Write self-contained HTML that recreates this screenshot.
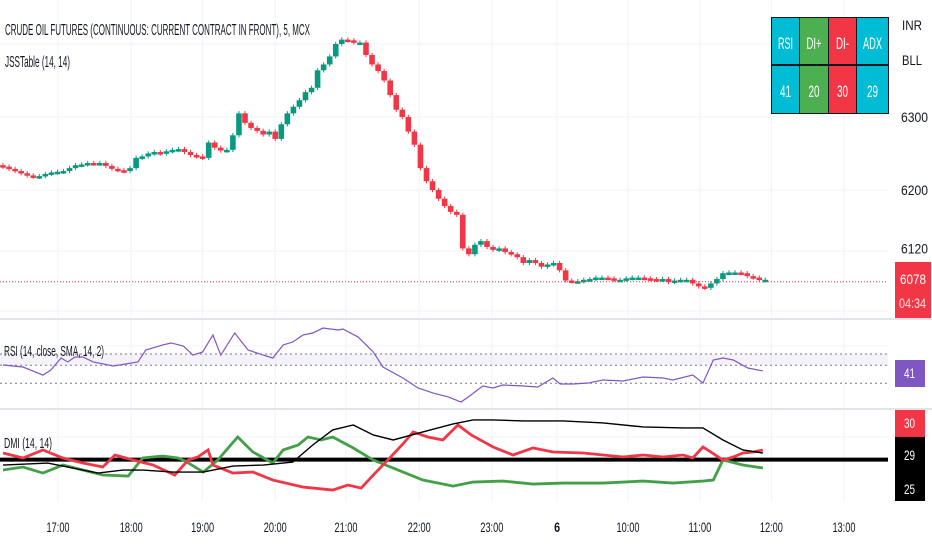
<!DOCTYPE html>
<html><head><meta charset="utf-8"><style>
html,body{margin:0;padding:0;background:#fff;width:932px;height:550px;overflow:hidden}
svg{display:block;font-family:"Liberation Sans",sans-serif}
</style></head><body>
<svg id="chart" width="932" height="550">
<g id="grid"></g>
<g id="candles"></g>
<g id="rsi"></g>
<g id="dmi"></g>
<g id="axes"></g>
<text x="5" y="35" font-size="16" fill="#131722" textLength="305" lengthAdjust="spacingAndGlyphs">CRUDE OIL FUTURES (CONTINUOUS: CURRENT CONTRACT IN FRONT), 5, MCX</text>
<text x="5" y="67" font-size="16" fill="#131722" textLength="65" lengthAdjust="spacingAndGlyphs">JSSTable (14, 14)</text>
<text x="4" y="356" font-size="15" fill="#131722" textLength="100" lengthAdjust="spacingAndGlyphs">RSI (14, close, SMA, 14, 2)</text>
<text x="4" y="448" font-size="15" fill="#131722" textLength="48" lengthAdjust="spacingAndGlyphs">DMI (14, 14)</text>
<g>
<rect x="771" y="17" width="118" height="97" fill="#131722"/>
<rect x="772" y="18" width="27" height="46" fill="#00bcd4"/><rect x="800" y="18" width="28" height="46" fill="#4caf50"/><rect x="829" y="18" width="27" height="46" fill="#f23645"/><rect x="857" y="18" width="31" height="46" fill="#00bcd4"/>
<rect x="772" y="66" width="27" height="47" fill="#00bcd4"/><rect x="800" y="66" width="28" height="47" fill="#4caf50"/><rect x="829" y="66" width="27" height="47" fill="#f23645"/><rect x="857" y="66" width="31" height="47" fill="#00bcd4"/>
<g fill="#fff" font-size="17" text-anchor="middle" lengthAdjust="spacingAndGlyphs">
<text x="785.5" y="49" textLength="15" lengthAdjust="spacingAndGlyphs">RSI</text>
<text x="814" y="49" textLength="15" lengthAdjust="spacingAndGlyphs">DI+</text>
<text x="842.5" y="49" textLength="13" lengthAdjust="spacingAndGlyphs">DI-</text>
<text x="872.5" y="49" textLength="19" lengthAdjust="spacingAndGlyphs">ADX</text>
<text x="785.5" y="97" textLength="11" lengthAdjust="spacingAndGlyphs">41</text>
<text x="814" y="97" textLength="11" lengthAdjust="spacingAndGlyphs">20</text>
<text x="842.5" y="97" textLength="11" lengthAdjust="spacingAndGlyphs">30</text>
<text x="872.5" y="97" textLength="11" lengthAdjust="spacingAndGlyphs">29</text>
</g></g>
</svg>
<script>
const closes=[6232,6229,6226,6223,6220,6218,6219,6222,6224,6225,6226,6230,6234,6235,6237,6236,6237,6233,6229,6227,6226,6230,6244,6246,6250,6252,6250,6253,6255,6256,6252,6248,6246,6244,6265,6258,6254,6255,6275,6305,6292,6285,6281,6276,6280,6270,6290,6305,6314,6323,6334,6340,6364,6372,6383,6400,6406,6405,6402,6402,6385,6372,6363,6350,6330,6310,6300,6280,6262,6230,6212,6200,6188,6178,6170,6166,6120,6112,6125,6130,6122,6118,6120,6115,6112,6108,6100,6104,6100,6095,6098,6100,6090,6076,6075,6075,6077,6078,6080,6080,6079,6077,6077,6079,6080,6080,6079,6078,6077,6078,6074,6076,6077,6077,6072,6068,6066,6072,6078,6086,6087,6087,6086,6082,6080,6077,6077];
const priceTicks=[6300,6200,6120];
const timeLabels=["17:00","18:00","19:00","20:00","21:00","22:00","23:00","6","10:00","11:00","12:00","13:00"];
const timeIdx=[9.1,21.2,33,45,56.7,68.8,80.8,91.6,103.3,115.2,127,139];
const rsiIdx=[0,3.3,6.6,7.9,9.6,10.7,11.9,13.2,14.9,18.2,22.3,23.6,26.4,27.8,29.8,31.4,33,34.7,36,38.3,40.5,43,44.6,46.3,47.9,49.6,51.2,52.9,55.4,56.2,58.7,61.2,62.8,66.1,68.6,71.1,73.6,75.7,76.9,79.3,81,82.6,86,88.4,90.9,92.1,94.2,96.7,99.2,102.5,105.8,109.1,110.7,114,115.7,117.4,119,120.7,123.1,125.6];
const rsiVals=[53.3,51.1,42.2,47.8,61.1,56.7,62.2,62.2,56.7,52.2,56.7,70,75.6,77.8,74.4,64.4,67.8,86.7,64.4,88.9,70,64.4,61.1,75.6,78.9,86.7,88.9,94.4,92.2,93.3,84.4,67.8,51.1,38.9,27.8,22.2,17.8,12.2,17.8,30,27.8,31.1,30,28.9,38.9,32.2,32.2,33.3,36.7,35.6,40,38.9,36.7,42.2,33.3,58.9,61.1,58.9,50,46.7];
const rsiLevels=[65.5,53,33];
const adxIdx=[0,7.4,9.9,15.7,19.8,23.1,28.1,33.1,38,43,47.9,51.2,54.5,57.9,61.2,64.5,69.4,74.4,77.7,81,86,92.6,99.2,105.8,112.4,115.7,119,122.3,125.6];
const adxVals=[21.8,23,21.2,17,18.8,18.8,17.6,17.6,21.2,21.8,23.6,33.8,42.8,45.8,39.8,36.8,41.6,46.4,48.8,48.8,48.2,48.2,47,44.6,44,44,36.8,30.8,29];
const diMinusIdx=[0,3.3,6.6,9.9,13.2,16.5,18.5,21.5,24.8,28.4,30.6,32.2,33.9,34.7,38,41.3,44.6,49.6,54.5,57,59.2,61.2,63.6,66.1,67.8,70.2,72.7,75.2,77.4,81,84.3,87.6,90.9,95.9,99.2,102.5,105.8,109.1,112.4,114,115.7,119,120.7,122.3,124,125.6];
const diMinusVals=[29,26,30.8,26,23,20.6,27.8,24.8,21.8,15.8,24.8,26.6,30.8,21.8,17,17.6,12.8,8.6,6.8,9.8,8,15.8,24.8,34.4,41.6,38.6,36.8,45.8,39.8,32.6,27.8,32,29.6,29,27.8,26.6,27.8,26.6,27.8,26,32.6,24.8,26.6,29,29.6,30.8];
const diPlusIdx=[0,3.3,6.6,9.9,13.2,16.5,20.7,23.1,26.4,28.9,30.1,33.1,35.5,38.8,41.3,44.6,46.3,48.8,50.4,52.6,54.5,57.9,61.2,65.3,69.4,74.4,77.7,82.6,87.6,92.6,99.2,105.8,110.7,115.7,117.4,119,122.3,125.6];
const diPlusVals=[18.8,20.6,17,21.8,18.8,15.8,15.2,26,27.2,26,24.2,17.6,24.8,38.6,29.6,23,30.8,33.8,38.6,36.8,38.6,32,24.8,18.8,12.8,9.2,11.6,12.2,10.4,11,11,12.2,11,12.2,12.8,24.8,21.8,20];
const dmiKey=25;

const NS="http://www.w3.org/2000/svg";
const xS=i=>3+6.05*i;
const yP=p=>117+(6300-p)*0.73;
const yR=v=>368-(v-50)*0.9;
const yD=v=>453-(v-29)*1.67;
function mk(tag,attrs,parent){const e=document.createElementNS(NS,tag);for(const k in attrs)e.setAttribute(k,attrs[k]);parent.appendChild(e);return e;}
const grid=document.getElementById('grid'),cg=document.getElementById('candles'),rg=document.getElementById('rsi'),dg=document.getElementById('dmi'),ax=document.getElementById('axes');
[44,117,190,251,311,346,437].forEach(y=>{mk('line',{x1:0,x2:888,y1:y,y2:y,stroke:'#f0f3fa','stroke-width':1},grid);});
timeIdx.forEach(i=>{mk('line',{x1:xS(i),x2:xS(i),y1:0,y2:502,stroke:'#f0f3fa','stroke-width':1},grid);});
closes.forEach((c,i)=>{const o=i?closes[i-1]:c+2;const up=c>=o;const col=up?'#089981':'#f23645';
 const hi=Math.max(o,c)+3,lo=Math.min(o,c)-3;const x=xS(i);
 const w=mk('line',{x1:x,x2:x,y1:yP(hi),y2:yP(lo),stroke:col,'stroke-width':1},cg);
 
 const t=Math.min(yP(o),yP(c));const h=Math.max(2.5,Math.abs(yP(o)-yP(c)));
 const b=mk('rect',{x:x-2.8,y:t,width:5.6,height:h,fill:col},cg);
 });
const lp=mk('line',{x1:0,x2:888,y1:yP(closes[closes.length-1])+2,y2:yP(closes[closes.length-1])+2,stroke:'#f23645','stroke-width':1,'stroke-dasharray':'1 2'},cg);

[319,409].forEach(y=>{const l=mk('line',{x1:0,x2:932,y1:y,y2:y,stroke:'#e0e3eb','stroke-width':2},ax);});
mk('rect',{x:0,y:yR(rsiLevels[0]),width:888,height:yR(rsiLevels[1])-yR(rsiLevels[0]),fill:'#7e57c2','fill-opacity':0.08},rg);
rsiLevels.forEach(v=>{const l=mk('line',{x1:0,x2:888,y1:yR(v),y2:yR(v),stroke:'#787b86','stroke-width':1,'stroke-dasharray':'2 3'},rg);});
const rl=mk('polyline',{points:rsiIdx.map((i,k)=>xS(i)+','+yR(rsiVals[k])).join(' '),fill:'none',stroke:'#7e57c2','stroke-width':1.2},rg);

const kl=mk('line',{x1:0,x2:888,y1:yD(dmiKey),y2:yD(dmiKey),stroke:'#000','stroke-width':4},dg);

const gl=mk('polyline',{points:diPlusIdx.map((i,k)=>xS(i)+','+yD(diPlusVals[k])).join(' '),fill:'none',stroke:'#43a047','stroke-width':2.8},dg);

const redl=mk('polyline',{points:diMinusIdx.map((i,k)=>xS(i)+','+yD(diMinusVals[k])).join(' '),fill:'none',stroke:'#f23645','stroke-width':2.8},dg);

const al=mk('polyline',{points:adxIdx.map((i,k)=>xS(i)+','+yD(adxVals[k])).join(' '),fill:'none',stroke:'#000','stroke-width':1.4},dg);

function lab(txt,x,y,opt,name){const t=mk('text',Object.assign({x:x,y:y,'font-size':14,fill:'#131722'},opt||{}),ax);t.textContent=txt;return t;}
lab('INR',902,30,{textLength:20,lengthAdjust:'spacingAndGlyphs'},'currency-label');lab('BLL',902,65,{textLength:20,lengthAdjust:'spacingAndGlyphs'},'unit-label');
priceTicks.forEach(p=>lab(String(p),901,yP(p)+5,{textLength:27,lengthAdjust:'spacingAndGlyphs'},'price-tick'));
const pb=mk('rect',{x:895,y:262,width:36,height:56,fill:'#f23645'},ax);
lab('6078',900,284,{fill:'#fff',textLength:26,lengthAdjust:'spacingAndGlyphs'},'last-price-value');
lab('04:34',899,308,{fill:'#fff','fill-opacity':0.85,textLength:27,lengthAdjust:'spacingAndGlyphs'},'bar-countdown');
const rb=mk('rect',{x:895,y:360,width:30,height:27,fill:'#7e57c2'},ax);
lab('41',904,378,{fill:'#fff',textLength:11,lengthAdjust:'spacingAndGlyphs'},'rsi-value');
const b1=mk('rect',{x:895,y:410,width:30,height:27,fill:'#f23645'},ax);
lab('30',904,428,{fill:'#fff',textLength:11,lengthAdjust:'spacingAndGlyphs'},'di-minus-value');
const b2=mk('rect',{x:895,y:437,width:30,height:64,fill:'#000'},ax);
lab('29',904,460,{fill:'#fff',textLength:11,lengthAdjust:'spacingAndGlyphs'},'adx-value');lab('25',904,494,{fill:'#fff',textLength:11,lengthAdjust:'spacingAndGlyphs'},'dmi-level-value');
timeLabels.forEach((t,k)=>lab(t,xS(timeIdx[k]),532,{'text-anchor':'middle','font-size':14,'font-weight':t==='6'?'bold':'normal',textLength:t==='6'?6:23,lengthAdjust:'spacingAndGlyphs'},'time-tick'));
</script>
</body></html>
